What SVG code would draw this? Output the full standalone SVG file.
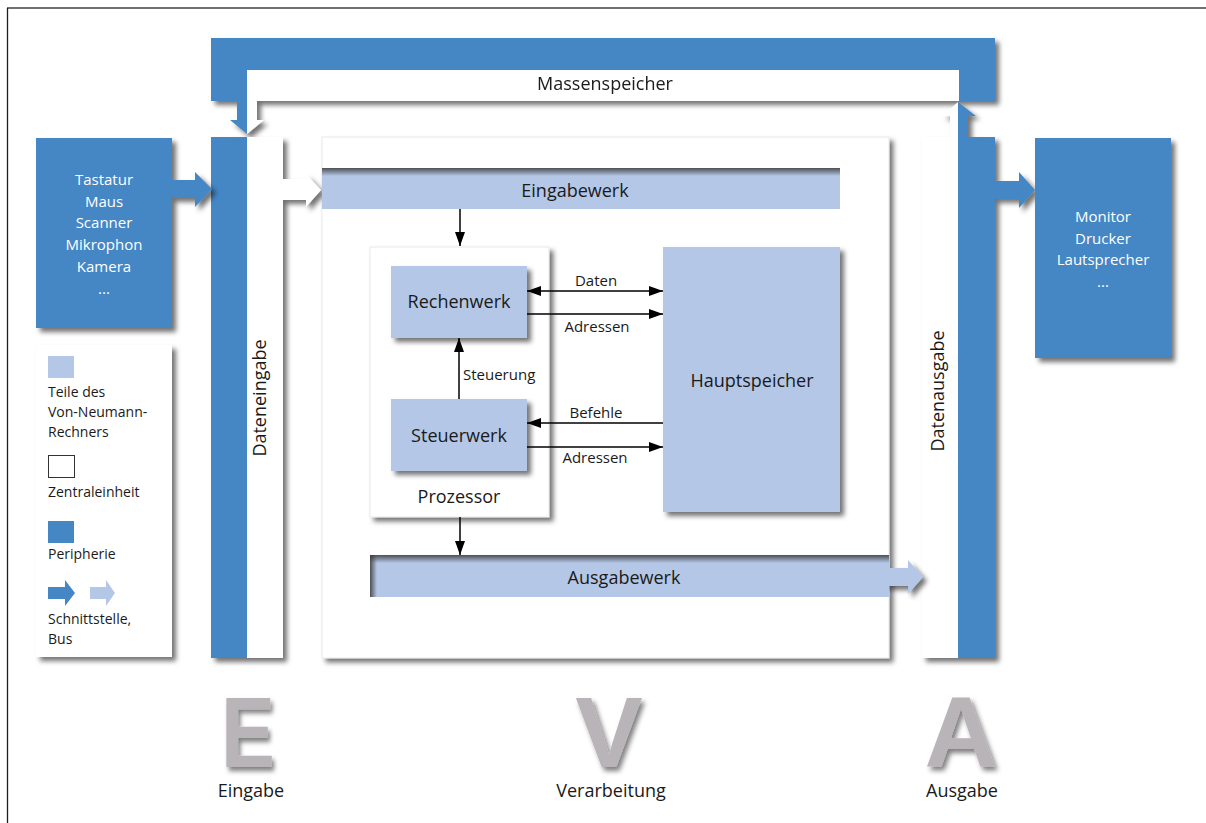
<svg xmlns="http://www.w3.org/2000/svg" width="1206" height="823" viewBox="0 0 1206 823">
<defs>
<filter id="sh" x="-10%" y="-10%" width="130%" height="130%">
<feDropShadow dx="4" dy="4" stdDeviation="2.5" flood-color="#000" flood-opacity="0.55"/>
</filter>
<filter id="shL" x="-20%" y="-20%" width="150%" height="150%">
<feDropShadow dx="3" dy="4" stdDeviation="2.5" flood-color="#000" flood-opacity="0.5"/>
</filter>
<linearGradient id="inTop" x1="0" y1="0" x2="0" y2="1">
<stop offset="0" stop-color="#3a3a3a" stop-opacity="0.85"/>
<stop offset="1" stop-color="#3a3a3a" stop-opacity="0"/>
</linearGradient>
<linearGradient id="inLeft" x1="0" y1="0" x2="1" y2="0">
<stop offset="0" stop-color="#3a3a3a" stop-opacity="0.85"/>
<stop offset="1" stop-color="#3a3a3a" stop-opacity="0"/>
</linearGradient>
<marker id="ah" viewBox="0 0 14 10" refX="14" refY="5" markerWidth="14" markerHeight="10" markerUnits="userSpaceOnUse" orient="auto-start-reverse">
<path d="M0,0 L14,5 L0,10 z" fill="#000"/>
</marker>
</defs>
<style>
.blue{fill:#4586c5}
.lb{fill:#b4c7e7}
.wh{fill:#ffffff}
.t{font-family:"Open Sans","Liberation Sans",sans-serif;fill:#1a1a1a}
.tw{font-family:"Open Sans","Liberation Sans",sans-serif;fill:#ffffff;font-size:15px;text-anchor:middle}
.big{font-size:18px;text-anchor:middle}
.lab{font-size:15px;text-anchor:middle}
.leg{font-size:14px}
.ln{stroke:#000;stroke-width:1.5;fill:none}
.eva{font-family:"Liberation Sans",Arial,sans-serif;font-weight:bold;font-size:101px;fill:#b8b4b7;text-anchor:middle}
</style>

<!-- frame -->
<line x1="7" y1="8" x2="1206" y2="8" stroke="#707070" stroke-width="2"/>
<line x1="7.5" y1="8" x2="7.5" y2="823" stroke="#1e1e1e" stroke-width="1.3"/>

<!-- Massenspeicher -->
<g id="massenspeicher" filter="url(#sh)">
<rect class="blue" x="211" y="38" width="784" height="63"/>
<polygon class="blue" points="211,100 247,100 247,134 230,120 237,120 237,100"/>
<polygon class="wh" points="247,100 257,100 257,120 264,120 247,134"/>
<rect class="wh" x="247" y="70" width="712" height="31"/>
<text class="t big" x="605" y="90">Massenspeicher</text>
</g>

<!-- Zentraleinheit -->
<g id="zentraleinheit">
<rect x="322" y="137" width="567" height="521" fill="#fff" stroke="#e4e4e4" stroke-width="0.8" filter="url(#sh)"/>
</g>

<!-- Dateneingabe column -->
<g id="dateneingabe" filter="url(#sh)">
<rect class="blue" x="211" y="137" width="36" height="521"/>
<rect class="wh" x="247" y="137" width="36" height="521"/>
<polygon class="wh" points="282,179 306,179 306,174 321,190 306,207 306,200 282,200"/>
</g>
<text class="t big" transform="translate(266,398) rotate(-90)">Dateneingabe</text>

<!-- Datenausgabe column -->
<g id="datenausgabe" filter="url(#sh)">
<polygon class="wh" points="950,140 950,116 942,116 958,102 958,140"/>
<polygon class="blue" points="958,102 976,116 968,116 968,140 958,140"/>
<rect class="wh" x="922" y="137" width="36" height="521"/>
<rect class="blue" x="958" y="137" width="37" height="521"/>
<polygon class="blue" points="994,181 1019,181 1019,172 1035,190 1019,208 1019,199 994,199"/>
</g>
<text class="t big" transform="translate(944,391) rotate(-90)">Datenausgabe</text>

<!-- Eingabegeraete -->
<g id="eingabegeraete" filter="url(#sh)">
<rect class="blue" x="36" y="138" width="136" height="190"/>
<polygon class="blue" points="171,180 195,180 195,172 212,189 195,207 195,198 171,198"/>
</g>
<g id="eingabegeraete-text">
<text class="tw" x="104" y="185">Tastatur</text>
<text class="tw" x="104" y="207">Maus</text>
<text class="tw" x="104" y="228">Scanner</text>
<text class="tw" x="104" y="250">Mikrophon</text>
<text class="tw" x="104" y="272">Kamera</text>
<text class="tw" x="104" y="294">...</text>
</g>

<!-- Ausgabegeraete -->
<g id="ausgabegeraete">
<rect class="blue" x="1035" y="138" width="136" height="220" filter="url(#sh)"/>
<text class="tw" x="1103" y="222">Monitor</text>
<text class="tw" x="1103" y="244">Drucker</text>
<text class="tw" x="1103" y="265">Lautsprecher</text>
<text class="tw" x="1103" y="287">...</text>
</g>

<!-- Legende -->
<g id="legende">
<rect x="36" y="345" width="136" height="312" fill="#fff" filter="url(#sh)"/>
<rect class="lb" x="48" y="356" width="26" height="22"/>
<text class="t leg" x="48" y="397">Teile des</text>
<text class="t leg" x="48" y="417">Von-Neumann-</text>
<text class="t leg" x="48" y="437">Rechners</text>
<rect x="48.5" y="455.5" width="26" height="22" fill="#fff" stroke="#333" stroke-width="1"/>
<text class="t leg" x="48" y="497">Zentraleinheit</text>
<rect class="blue" x="48" y="521" width="26" height="22"/>
<text class="t leg" x="48" y="559">Peripherie</text>
<polygon class="blue" points="48,587 65,587 65,580 75,593 65,606 65,599 48,599"/>
<polygon class="lb" points="90,587 106,587 106,580 115,593 106,606 106,599 90,599"/>
<text class="t leg" x="48" y="624">Schnittstelle,</text>
<text class="t leg" x="48" y="644">Bus</text>
</g>

<!-- Eingabewerk -->
<g id="eingabewerk">
<rect class="lb" x="322" y="168" width="518" height="41"/>
<rect x="322" y="168" width="518" height="8" fill="url(#inTop)"/>
<text class="t big" x="575" y="197">Eingabewerk</text>
</g>

<!-- Prozessor -->
<g id="prozessor">
<rect x="370" y="247" width="179" height="270" fill="#fff" stroke="#e4e4e4" stroke-width="0.8" filter="url(#sh)"/>
<text class="t big" x="459" y="503">Prozessor</text>
</g>

<g id="rechenwerk">
<rect class="lb" x="391" y="266" width="136" height="72" filter="url(#sh)"/>
<text class="t big" x="459" y="308">Rechenwerk</text>
</g>

<g id="steuerwerk">
<rect class="lb" x="391" y="399" width="136" height="72" filter="url(#sh)"/>
<text class="t big" x="459" y="442">Steuerwerk</text>
</g>

<g id="hauptspeicher">
<rect class="lb" x="663" y="247" width="177" height="265" filter="url(#sh)"/>
<text class="t big" x="752" y="387">Hauptspeicher</text>
</g>

<!-- Ausgabewerk -->
<g id="ausgabewerk">
<polygon class="lb" points="885,568 908,568 908,560 923,577 908,594 908,586 885,586" filter="url(#sh)"/>
<rect class="lb" x="370" y="555" width="519" height="42"/>
<rect x="370" y="555" width="519" height="8" fill="url(#inTop)"/>
<rect x="370" y="555" width="7" height="42" fill="url(#inLeft)"/>
<text class="t big" x="624" y="584">Ausgabewerk</text>
</g>

<!-- connectors -->
<g id="connectors">
<line class="ln" x1="460" y1="209" x2="460" y2="246" marker-end="url(#ah)"/>
<line class="ln" x1="460" y1="517" x2="460" y2="555" marker-end="url(#ah)"/>
<line class="ln" x1="459" y1="399" x2="459" y2="338" marker-end="url(#ah)"/>
<line class="ln" x1="527" y1="291" x2="663" y2="291" marker-start="url(#ah)" marker-end="url(#ah)"/>
<line class="ln" x1="527" y1="314" x2="663" y2="314" marker-end="url(#ah)"/>
<line class="ln" x1="663" y1="423" x2="527" y2="423" marker-end="url(#ah)"/>
<line class="ln" x1="527" y1="447" x2="663" y2="447" marker-end="url(#ah)"/>
<text class="t lab" x="596" y="286">Daten</text>
<text class="t lab" x="597" y="332">Adressen</text>
<text class="t lab" x="596" y="418">Befehle</text>
<text class="t lab" x="595" y="463">Adressen</text>
<text class="t" font-size="15" x="463" y="380">Steuerung</text>
</g>

<!-- EVA -->
<g id="eva">
<text class="eva" filter="url(#shL)" transform="translate(248,767) scale(0.8,1)" x="0" y="0">E</text>
<text class="eva" filter="url(#shL)" x="609" y="767">V</text>
<text class="eva" filter="url(#shL)" x="961" y="767">A</text>
<text class="t big" x="251" y="797">Eingabe</text>
<text class="t big" x="611" y="797">Verarbeitung</text>
<text class="t big" x="962" y="797">Ausgabe</text>
</g>
</svg>
